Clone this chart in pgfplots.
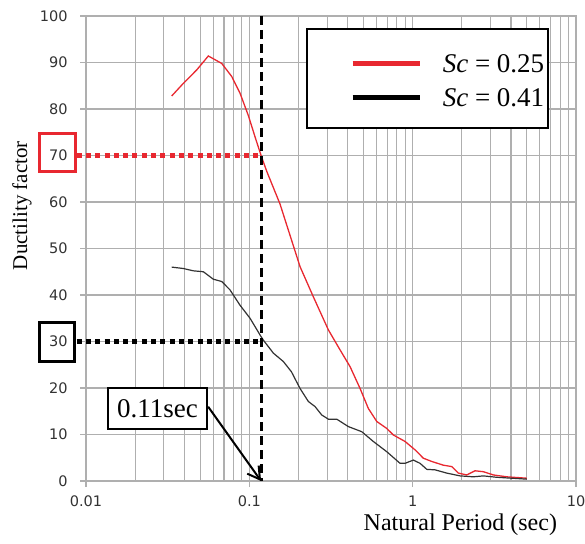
\documentclass[border=0pt]{standalone}
\usepackage{pgfplots}
\pgfplotsset{compat=1.18}
\usepackage{fontspec}
\setmainfont{Liberation Serif}
\newfontfamily\tickfont{DejaVu Sans}
\usetikzlibrary{arrows.meta}
\definecolor{cred}{RGB}{232,40,48}
\definecolor{cblk}{RGB}{50,50,50}
\definecolor{gridc}{RGB}{175,175,175}
\definecolor{tickc}{RGB}{50,50,50}
\begin{document}
\begin{tikzpicture}
\begin{axis}[
 xmode=log, scale only axis, width=490pt, height=465pt,
 xmin=0.01, xmax=10, ymin=0, ymax=100,
 xtick={0.01,0.1,1,10}, xticklabels={0.01,0.1,1,10},
 ytick={0,10,20,30,40,50,60,70,80,90,100},
 yticklabels={0,10,20,30,40,50,60,70,80,90,100},
 xmajorgrids, xminorgrids, ymajorgrids,
 major grid style={gridc, line width=1.1pt},
 minor grid style={gridc, line width=1.1pt},
 axis line style={gridc, line width=1.1pt},
 tick align=outside, major tick length=6pt, minor tick length=0pt,
 tick pos=left,
 tick style={gridc, line width=1.1pt},
 ticklabel style={font=\tickfont\fontsize{14.5}{14.5}\selectfont, text=tickc},
 yticklabel style={xshift=-9pt},
 xticklabel style={yshift=-5pt},
 clip=false,
 ylabel={Ductility factor},
 ylabel style={at={(axis description cs:-0.1306,0.592)}, anchor=center, font=\fontsize{21}{21}\selectfont},
 xlabel={Natural Period (sec)},
 xlabel style={at={(axis description cs:0.764,-0.093)}, anchor=center, font=\fontsize{24}{24}\selectfont},
 legend style={at={(axis description cs:0.539,0.861)}, anchor=west, draw=none, fill=none,
   inner sep=0pt, font=\fontsize{27}{27}\selectfont, row sep=16pt, column sep=21pt,
   nodes={inner sep=0pt, text depth=0pt}},
 legend cell align=left,
 legend image code/.code={\draw[#1] (0pt,0pt) -- (67pt,0pt);},
]
\coordinate (O) at (rel axis cs:0,0);
% legend box
\draw[black, line width=2pt, fill=white] (axis description cs:0.451,0.9713) rectangle (axis description cs:0.9435,0.759);

\addlegendimage{cred, line width=4.5pt}
\addlegendentry{\textit{Sc} = 0.25}
\addlegendimage{black, line width=4.5pt}
\addlegendentry{\textit{Sc} = 0.41}

\addplot[forget plot, cred, line width=1.3pt] coordinates {
(0.03348,82.8) (0.03943,85.5) (0.04763,88.4) (0.05610,91.4) (0.06776,89.8)
(0.07801,87.0) (0.0877,83.4) (0.0986,78.6) (0.1084,74.0) (0.118,70.0)
(0.1278,66.6) (0.154,59.6) (0.2044,46.1) (0.2466,39.6) (0.3047,32.5)
(0.3592,28.2) (0.4137,24.6) (0.4764,19.9) (0.5354,15.6) (0.6030,12.8)
(0.6941,11.3) (0.7616,9.9) (0.8986,8.5) (1.034,6.7) (1.163,4.9)
(1.309,4.2) (1.542,3.4) (1.735,3.1) (1.905,1.7) (2.145,1.3)
(2.41,2.2) (2.71,2.0) (3.12,1.3) (3.77,0.9) (5.0,0.6)
};
\addplot[forget plot, cblk, line width=1.2pt] coordinates {
(0.03348,46.0) (0.03943,45.7) (0.04541,45.2) (0.05230,45.0) (0.06017,43.4)
(0.06776,42.9) (0.07615,41.1) (0.0877,37.8) (0.1010,35.0) (0.1163,31.4)
(0.1218,30.3) (0.1403,27.5) (0.1615,25.7) (0.181,23.5) (0.2044,19.9)
(0.2298,17.1) (0.2526,16.0) (0.2775,14.2) (0.3047,13.3) (0.3429,13.3)
(0.4039,11.7) (0.4880,10.6) (0.5744,8.5) (0.6941,6.3) (0.8371,3.8)
(0.8986,3.8) (1.010,4.5) (1.110,3.8) (1.221,2.5) (1.371,2.4)
(1.618,1.7) (1.950,1.1) (2.353,0.9) (2.71,1.1) (3.27,0.8) (5.0,0.4)
};

% reference lines
\addplot[forget plot, cred, line width=4.5pt, dash pattern=on 5pt off 4.3pt] coordinates {(0.00877,70) (0.118,70)};
\addplot[forget plot, black, line width=4.5pt, dash pattern=on 5pt off 4.3pt] coordinates {(0.00877,30) (0.118,30)};
\addplot[forget plot, black, line width=3pt, dash pattern=on 9pt off 5pt] coordinates {(0.118,100) (0.118,0)};

% boxes around tick labels
\draw[cred, line width=3pt] (axis description cs:-0.0943,0.748) rectangle (axis description cs:-0.022,0.665);
\draw[black, line width=3pt] (axis description cs:-0.0943,0.341) rectangle (axis description cs:-0.0234,0.258);

% annotation
\node[draw=black, line width=2.5pt, fill=white, minimum width=99pt, minimum height=41pt, inner sep=0pt,
      font=\fontsize{27}{27}\selectfont] (bx) at (axis description cs:0.1457,0.1555) {0.11sec};
\draw[black, line width=2pt, -{Straight Barb[length=12pt,width=14pt]}] ([yshift=2pt]bx.east) -- (axis cs:0.118,0);
\end{axis}
\pgfresetboundingbox
\path[use as bounding box] (O) ++(-86pt,-62pt) rectangle ++(585pt,543pt);
\end{tikzpicture}
\end{document}
